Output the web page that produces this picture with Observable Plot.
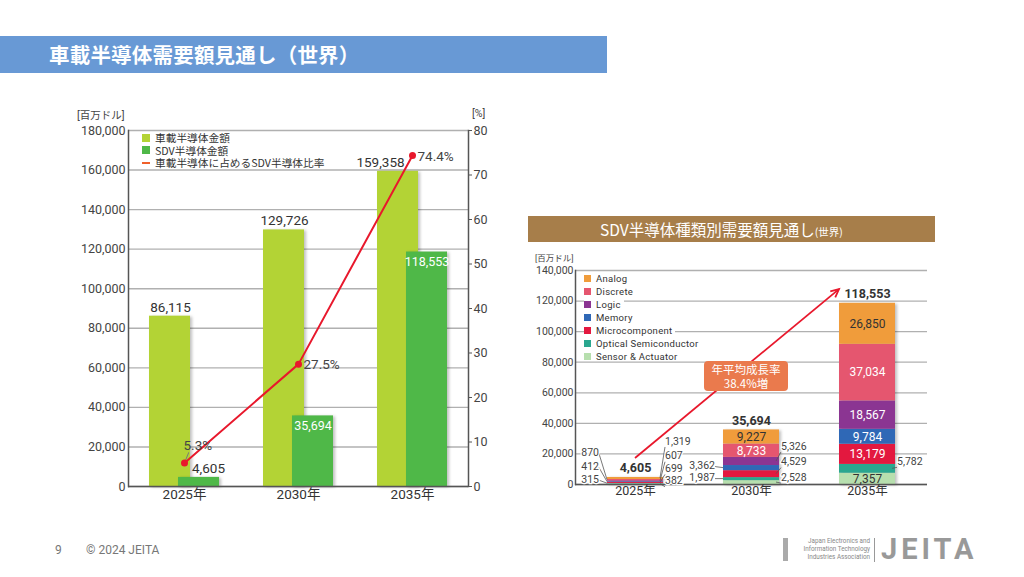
<!DOCTYPE html>
<html>
<head>
<meta charset="utf-8">
<script src="https://cdn.jsdelivr.net/npm/d3@7"></script>
<script src="https://cdn.jsdelivr.net/npm/@observablehq/plot@0.6"></script>
<style>
  html, body { margin: 0; padding: 0; background: #fff; }
  body { width: 1024px; height: 577px; position: relative; overflow: hidden;
         font-family: "Noto Sans CJK JP", "Noto Sans", sans-serif; }
  .abs { position: absolute; }
  .lg-row { position: absolute; display: flex; align-items: center; white-space: nowrap; color: #333; }
  .sw { display: inline-block; }
</style>
</head>
<body>
<script>
// ---------------- DATA ----------------
const years = ["2025年", "2030年", "2035年"];
const autoTotal = [86115, 129726, 159358];     // 車載半導体金額
const sdvTotal = [4605, 35694, 118553];        // SDV半導体金額
const sdvShare = [5.3, 27.5, 74.4];            // 車載半導体に占めるSDV半導体比率 (%)
const amountTicks = [0, 20000, 40000, 60000, 80000, 100000, 120000, 140000, 160000, 180000];
const shareTicks = [0, 10, 20, 30, 40, 50, 60, 70, 80];

const types = ["Analog", "Discrete", "Logic", "Memory", "Microcomponent", "Optical Semiconductor", "Sensor & Actuator"];
const sdvByType2025 = [1319, 870, 607, 412, 699, 315, 382];
const sdvByType2030 = [9227, 8733, 5326, 3362, 4529, 1987, 2528];
const sdvByType2035 = [26850, 37034, 18567, 9784, 13179, 5782, 7357];
const typeTicks = [0, 20000, 40000, 60000, 80000, 100000, 120000, 140000];
const cagrText = ["年平均成長率", "38.4%増"];
const cagrArrowValues = [17000, 127500];      // arrow from 2025 to 2035

const legendLeft = ["車載半導体金額", "SDV半導体金額", "車載半導体に占めるSDV半導体比率"];

// ---------------- STYLE ----------------
const lightGreen = "#b3d335", darkGreen = "#4fb848", red = "#e8182c";
const typeColors = ["#f09c3b", "#e5566f", "#8b3592", "#2f68b6", "#e3183f", "#2aa78f", "#b7dfae"];
const typeInk = ["#333", "#fff", "#fff", "#fff", "#fff", "#fff", "#333"];
// outside labels: [year index, type index, side, vertical offset px]
const outsideLayout = [
  [0, 0, "right", -37], [0, 1, "left", -27], [0, 2, "right", -25], [0, 3, "left", -15],
  [0, 4, "right", -14], [0, 5, "left", -4], [0, 6, "right", -3],
  [1, 2, "right", -15], [1, 3, "left", -2], [1, 4, "right", -12], [1, 5, "left", -1], [1, 6, "right", -5],
  [2, 5, "right", -7]
];
const numFont = "Roboto, 'Noto Sans CJK JP', sans-serif";
const fmt = d3.format(",");
const SHARE_TO_AMOUNT = 180000 / 80;

// ---------------- PAGE CHROME ----------------
function div(style, html) {
  const d = document.createElement("div");
  d.className = "abs";
  d.setAttribute("style", style);
  if (html !== undefined) d.innerHTML = html;
  document.body.appendChild(d);
  return d;
}
div("left:0;top:36px;width:607px;height:37px;background:#6899d5;");
div("left:49px;top:36px;height:37px;line-height:37px;color:#fff;font-size:20.5px;font-weight:bold;letter-spacing:0.2px;", "車載半導体需要額見通し（世界）");

// ---------------- LEFT CHART ----------------
const leftRows = years.map((y, i) => ({year: y, auto: autoTotal[i], sdv: sdvTotal[i], share: sdvShare[i]}));
const leaderShape = {draw(ctx, l) { ctx.moveTo(0, 0); ctx.lineTo(0, -l); }};
const shadow = "drop-shadow(2px 1px 1.5px rgba(0,0,0,0.25))";

const leftPlot = Plot.plot({
  width: 440, height: 410,
  marginLeft: 68, marginRight: 32, marginTop: 30, marginBottom: 24,
  style: {fontFamily: numFont, color: "#444", background: "transparent", overflow: "visible"},
  x: {domain: years, paddingInner: 0.383, paddingOuter: 0.18, label: null},
  y: {domain: [0, 180000], label: null},
  marks: [
    Plot.gridY(amountTicks, {stroke: "#b0b0b0", strokeOpacity: 1, strokeWidth: 1.4}),
    Plot.barY(leftRows, {x: "year", y: "auto", fill: lightGreen, insetRight: 29, imageFilter: shadow}),
    Plot.barY(leftRows, {x: "year", y: "sdv", fill: darkGreen, insetLeft: 29, imageFilter: shadow}),
    Plot.frame({anchor: "left", stroke: "#555", strokeWidth: 1.5}),
    Plot.frame({anchor: "right", stroke: "#555", strokeWidth: 1.5}),
    Plot.ruleY([0], {stroke: "#555", strokeWidth: 1.5}),
    Plot.axisY(amountTicks, {tickSize: 0, tickPadding: 3, tickFormat: fmt, fontSize: 12.5, label: null, fill: "#444"}),
    Plot.axisY(shareTicks.map(p => p * SHARE_TO_AMOUNT), {anchor: "right", tickSize: 3, tickPadding: 2,
      tickFormat: d => Math.round(d / SHARE_TO_AMOUNT), fontSize: 12.5, label: null, fill: "#444", stroke: "#555"}),
    Plot.axisX({tickSize: 0, tickPadding: 3, fontSize: 13.5, label: null, fill: "#333"}),
    // value labels
    Plot.text(leftRows, {filter: (d, i) => i < 2, x: "year", y: "auto", text: d => fmt(d.auto), dx: -14, dy: -9, fontSize: 13.5, fill: "#333"}),
    Plot.text(leftRows, {filter: (d, i) => i === 2, x: "year", y: "auto", text: d => fmt(d.auto), dx: -32, dy: -9, fontSize: 13.5, fill: "#333"}),
    Plot.text(leftRows, {filter: (d, i) => i === 0, x: "year", y: "sdv", text: d => fmt(d.sdv), dx: 24, dy: -9, fontSize: 13.5, fill: "#333"}),
    Plot.text(leftRows, {filter: (d, i) => i > 0, x: "year", y: "sdv", text: d => fmt(d.sdv), dx: 14.5, dy: 10, fontSize: 12.5, fill: "#fff"}),
    // share line
    Plot.vector(leftRows, {filter: (d, i) => i === 0, x: "year", y: d => d.share * SHARE_TO_AMOUNT,
      length: 11, rotate: 22, anchor: "start", shape: leaderShape, stroke: "#777", strokeWidth: 0.9}),
    Plot.line(leftRows, {x: "year", y: d => d.share * SHARE_TO_AMOUNT, stroke: red, strokeWidth: 2}),
    Plot.dot(leftRows, {x: "year", y: d => d.share * SHARE_TO_AMOUNT, r: 3.5, fill: red}),
    Plot.text(leftRows, {filter: (d, i) => i === 0, x: "year", y: d => d.share * SHARE_TO_AMOUNT, text: d => d.share + "%",
      textAnchor: "start", dx: -1, dy: -17, fontSize: 13.5, fill: "#444"}),
    Plot.text(leftRows, {filter: (d, i) => i === 1, x: "year", y: d => d.share * SHARE_TO_AMOUNT, text: d => d.share + "%",
      textAnchor: "start", dx: 5, dy: 1, fontSize: 13.5, fill: "#444"}),
    Plot.text(leftRows, {filter: (d, i) => i === 2, x: "year", y: d => d.share * SHARE_TO_AMOUNT, text: d => d.share + "%",
      textAnchor: "start", dx: 5, dy: 1, fontSize: 13.5, fill: "#444"})
  ]
});
const leftWrap = div("left:60px;top:100px;width:440px;height:410px;");
leftWrap.appendChild(leftPlot);

div("left:77px;top:107px;font-size:10.5px;color:#444;font-family:" + numFont + ";", "[百万ドル]");
div("left:472px;top:107px;font-size:10.5px;color:#444;font-family:" + numFont + ";", "[%]");
// left legend
[[lightGreen, "sq"], [darkGreen, "sq"], ["#f0602a", "line"]].forEach(([c, kind], i) => {
  const sw = kind === "sq"
    ? `<span class="sw" style="width:8px;height:8px;background:${c};margin-right:5px;"></span>`
    : `<span class="sw" style="width:8px;height:2px;background:${c};margin-right:5px;"></span>`;
  div(`left:142px;top:${132 + i * 12.5}px;height:11px;font-size:10.7px;line-height:11px;`,
    `<div class="lg-row" style="left:0;top:0;height:11px;line-height:11px;">${sw}${legendLeft[i]}</div>`);
});

// ---------------- RIGHT CHART ----------------
div("left:528px;top:216px;width:407px;height:26px;background:#a77e4a;");
div("left:600px;top:216px;height:26px;line-height:26px;color:#fff;font-size:15.5px;white-space:nowrap;",
  "SDV半導体種類別需要額見通し<span style='font-size:10.5px;'>(世界)</span>");

const stackRows = [];
[sdvByType2025, sdvByType2030, sdvByType2035].forEach((vals, yi) => {
  let acc = 0;
  for (let ti = types.length - 1; ti >= 0; ti--) {
    const v = vals[ti];
    stackRows.push({year: years[yi], yi, ti, type: types[ti], value: v, y1: acc, y2: acc + v, mid: acc + v / 2});
    acc += v;
  }
});
const isOutside = d => outsideLayout.some(([yi, ti]) => yi === d.yi && ti === d.ti);
const totals = years.map((y, i) => ({year: y, total: sdvTotal[i]}));

function bandwidthOf(x) { return typeof x.bandwidth === "function" ? x.bandwidth() : (x.bandwidth || 0); }

function outsideLabels(index, scales) {
  const {x, y} = scales;
  const bw = bandwidthOf(x);
  const g = d3.create("svg:g");
  for (const [yi, ti, side, dy] of outsideLayout) {
    const r = stackRows.find(d => d.yi === yi && d.ti === ti);
    const x0 = x(r.year), ym = y(r.mid);
    const edge = side === "left" ? x0 : x0 + bw;
    const ly = ym + dy;
    if (side === "left") {
      g.append("line").attr("x1", edge).attr("y1", ym).attr("x2", edge - 8).attr("y2", ly + 1)
        .attr("stroke", "#555").attr("stroke-width", 0.8);
      g.append("text").attr("x", edge - 8).attr("y", ly).attr("dy", "0.35em").attr("text-anchor", "end")
        .attr("font-size", 10.5).attr("fill", "#444").attr("stroke", "#fff").attr("stroke-width", 2.5)
        .attr("paint-order", "stroke").text(fmt(r.value));
    } else {
      g.append("line").attr("x1", edge - 3).attr("y1", ym).attr("x2", edge + 2).attr("y2", ly + 6)
        .attr("stroke", "#555").attr("stroke-width", 0.8);
      g.append("text").attr("x", edge + 2).attr("y", ly).attr("dy", "0.35em").attr("text-anchor", "start")
        .attr("font-size", 10.5).attr("fill", "#444").attr("stroke", "#fff").attr("stroke-width", 2.5)
        .attr("paint-order", "stroke").text(fmt(r.value));
    }
  }
  return g.node();
}

function cagrArrow(index, scales) {
  const {x, y} = scales;
  const bw = bandwidthOf(x);
  const x1 = x(years[0]) + bw / 2, y1 = y(cagrArrowValues[0]);
  const x2 = x(years[2]), y2 = y(cagrArrowValues[1]);
  const a = Math.atan2(y2 - y1, x2 - x1), h = 9, w = 0.45;
  const g = d3.create("svg:g").attr("stroke", red).attr("stroke-width", 1.8).attr("fill", "none");
  g.append("line").attr("x1", x1).attr("y1", y1).attr("x2", x2).attr("y2", y2);
  g.append("path").attr("d",
    `M${x2 - h * Math.cos(a - w)},${y2 - h * Math.sin(a - w)}L${x2},${y2}L${x2 - h * Math.cos(a + w)},${y2 - h * Math.sin(a + w)}`);
  return g.node();
}

const rightPlot = Plot.plot({
  width: 410, height: 250,
  marginLeft: 47, marginRight: 11, marginTop: 15, marginBottom: 21,
  style: {fontFamily: numFont, color: "#444", background: "transparent", overflow: "visible"},
  x: {domain: years, paddingInner: 0.513, paddingOuter: 0.265, label: null},
  y: {domain: [0, 140000], label: null},
  color: {domain: types, range: typeColors},
  marks: [
    Plot.gridY(typeTicks, {stroke: "#b0b0b0", strokeOpacity: 1, strokeWidth: 1.3}),
    cagrArrow,
    Plot.barY(stackRows, {x: "year", y1: "y1", y2: "y2", fill: "type", imageFilter: shadow}),
    Plot.frame({anchor: "left", stroke: "#555", strokeWidth: 1.5}),
    Plot.ruleY([0], {stroke: "#555", strokeWidth: 1.5}),
    Plot.axisY(typeTicks, {tickSize: 0, tickPadding: 2, tickFormat: fmt, fontSize: 10.5, label: null, fill: "#444"}),
    Plot.axisX({tickSize: 0, tickPadding: 2, fontSize: 12.5, label: null, fill: "#333"}),
    Plot.text(stackRows, {filter: d => !isOutside(d), x: "year", y: "mid", text: d => fmt(d.value),
      fill: d => typeInk[d.ti], fontSize: 12}),
    outsideLabels,
    Plot.text(totals, {x: "year", y: "total", text: d => fmt(d.total), dy: -9, fontSize: 12.5, fontWeight: "bold", fill: "#333"})
  ]
});
const rightWrap = div("left:528px;top:255px;width:410px;height:250px;");
rightWrap.appendChild(rightPlot);

div("left:535px;top:251px;font-size:8.5px;color:#444;font-family:" + numFont + ";", "[百万ドル]");
// right legend
types.forEach((t, i) => {
  div(`left:584px;top:${273 + i * 13}px;height:10px;background:#fff;padding-right:3px;`,
    `<div class="lg-row" style="left:0;top:0;height:10px;position:relative;font-family:${numFont};font-size:9.5px;letter-spacing:0.3px;">` +
    `<span class="sw" style="width:7px;height:7px;background:${typeColors[i]};margin-right:5px;"></span>${t}</div>`);
});
// CAGR box
div("left:704px;top:361px;width:84px;height:30px;background:#ea7a4d;border-radius:4px;color:#fff;font-size:11.5px;line-height:14px;text-align:center;padding-top:1px;box-sizing:border-box;",
  cagrText.join("<br>"));

// ---------------- FOOTER ----------------
div("left:55px;top:543px;font-size:12px;color:#777;font-family:" + numFont + ";", "9");
div("left:86px;top:543px;font-size:12px;color:#777;font-family:" + numFont + ";", "© 2024 JEITA");
div("left:783px;top:538px;width:5px;height:23px;background:#aaa;");
div("left:790px;top:537px;width:80px;font-size:6.3px;line-height:8px;color:#888;text-align:right;font-family:" + numFont + ";",
  "Japan Electronics and<br>Information Technology<br>Industries Association");
div("left:874px;top:538px;width:1px;height:24px;background:#999;");
div("left:881px;top:532px;font-size:29px;font-weight:bold;color:#999;letter-spacing:4px;font-family:Roboto, sans-serif;", "JEITA");
</script>
</body>
</html>
